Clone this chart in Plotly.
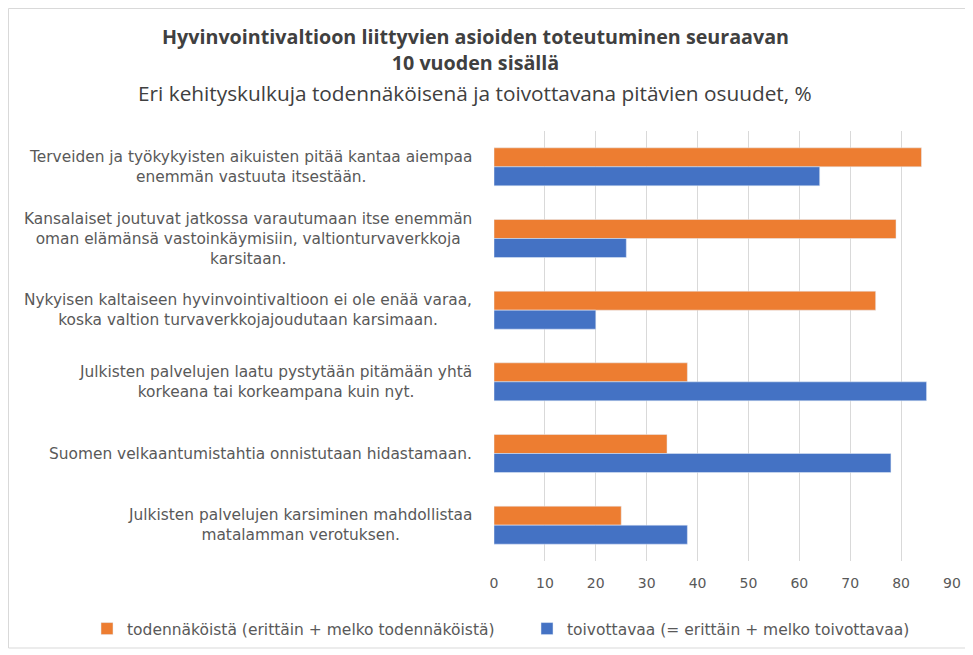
import plotly.graph_objects as go

categories = [
    "Terveiden ja työkykyisten aikuisten pitää kantaa aiempaa<br>enemmän vastuuta itsestään.",
    "Kansalaiset joutuvat jatkossa varautumaan itse enemmän<br>oman elämänsä vastoinkäymisiin, valtionturvaverkkoja<br>karsitaan.",
    "Nykyisen kaltaiseen hyvinvointivaltioon ei ole enää varaa,<br>koska valtion turvaverkkojajoudutaan karsimaan.",
    "Julkisten palvelujen laatu pystytään pitämään yhtä<br>korkeana tai korkeampana kuin nyt.",
    "Suomen velkaantumistahtia onnistutaan hidastamaan.",
    "Julkisten palvelujen karsiminen mahdollistaa<br>matalamman verotuksen.",
]
todennakoista = [84, 79, 75, 38, 34, 25]
toivottavaa = [64, 26, 20, 85, 78, 38]
series_names = [
    "todennäköistä (erittäin + melko todennäköistä)",
    "toivottavaa (= erittäin + melko toivottavaa)",
]
x_ticks = [0, 10, 20, 30, 40, 50, 60, 70, 80, 90]
title_text = "Hyvinvointivaltioon liittyvien asioiden toteutuminen seuraavan<br>10 vuoden sisällä"
subtitle_text = "Eri kehityskulkuja todennäköisenä ja toivottavana pitävien osuudet, %"

ORANGE = "#ED7D31"
BLUE = "#4472C4"
GRAY = "#595959"
FONT = "DejaVu Sans"
TFONT = "Open Sans"

# figure is offset by the page's 8px body margin
W, H = 965, 647
ml, mr, mt, mb = 486, 21, 123, 94
pw, ph = W - ml - mr, H - mt - mb

def px_x(p):
    return (p - ml) / pw

def px_y(p):
    return (H - mb - p) / ph

fig = go.Figure()
fig.add_trace(go.Bar(y=categories, x=todennakoista, orientation="h",
                     name=series_names[0], marker_color=ORANGE))
fig.add_trace(go.Bar(y=categories, x=toivottavaa, orientation="h",
                     name=series_names[1], marker_color=BLUE))

annotations = [
    dict(text="<b>%s</b>" % title_text, xref="paper", yref="paper",
         x=px_x(467), y=px_y(41), xanchor="center", yanchor="middle",
         showarrow=False, align="center",
         font=dict(family=TFONT, size=19.7, color="#404040")),
    dict(text=subtitle_text, xref="paper", yref="paper",
         x=px_x(467), y=px_y(85), xanchor="center", yanchor="middle",
         showarrow=False,
         font=dict(family=TFONT, size=20.8, color="#404040")),
]
for c in categories:
    annotations.append(dict(
        text=c, xref="paper", yref="y", x=0, y=c, xanchor="right",
        yanchor="middle", xshift=-20, align="center", showarrow=False,
        font=dict(family=FONT, size=15.4, color=GRAY),
    ))

fig.update_layout(
    width=W, height=H,
    margin=dict(l=ml, r=mr, t=mt, b=mb, autoexpand=False),
    paper_bgcolor="white", plot_bgcolor="white",
    barmode="group", bargap=0.47, bargroupgap=0,
    font=dict(family=FONT, size=14, color=GRAY),
    showlegend=True,
    legend=dict(orientation="h", x=px_x(79), xanchor="left",
                y=px_y(621), yanchor="middle", itemwidth=30,
                entrywidth=395, entrywidthmode="pixels",
                font=dict(family=FONT, size=15.5, color=GRAY)),
    annotations=annotations,
    shapes=[dict(type="rect", xref="paper", yref="paper",
                 x0=px_x(0.5), x1=px_x(960), y0=px_y(640), y1=px_y(0.5),
                 line=dict(color="#d9d9d9", width=1), layer="below")],
)
fig.update_xaxes(range=[0, 90], tickvals=x_ticks, showgrid=True,
                 gridcolor="#d9d9d9", gridwidth=1, zeroline=False,
                 tickfont=dict(family=FONT, size=14, color=GRAY),
                 ticks="", showline=False, ticklabelstandoff=12)
fig.update_yaxes(autorange="reversed", showticklabels=False, showgrid=False,
                 zeroline=False, showline=False, ticks="")

fig.write_html("out.html")
